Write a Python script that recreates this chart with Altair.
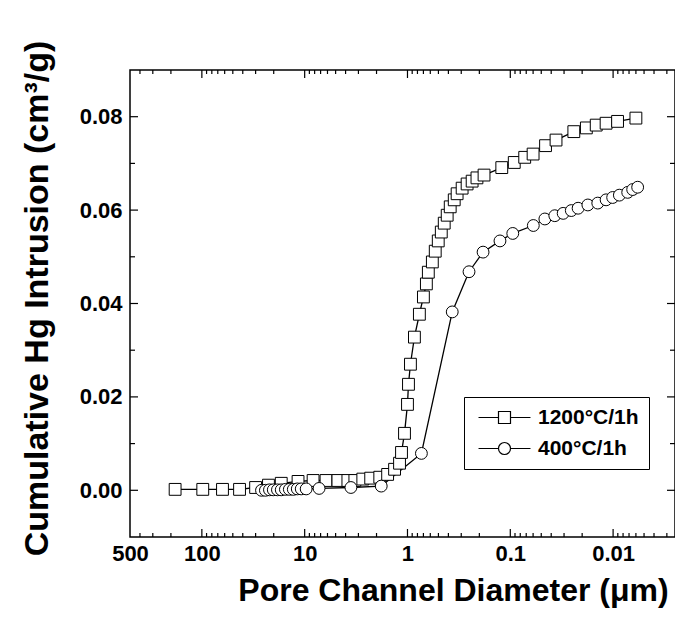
import altair as alt
import pandas as pd

S1 = "1200°C/1h"
S2 = "400°C/1h"

sq_d = [182, 98, 63, 43, 30, 22.5, 16.9, 11.6, 8.28, 6.20, 4.75, 3.80, 3.25, 2.72, 2.28,
        1.86, 1.56, 1.335, 1.195, 1.143, 1.069, 1.00, 0.978, 0.936, 0.856, 0.766, 0.700,
        0.655, 0.627, 0.573, 0.537, 0.502, 0.469, 0.439, 0.411, 0.384, 0.351, 0.329, 0.294,
        0.263, 0.235, 0.211, 0.180, 0.121, 0.0915, 0.0724, 0.0600, 0.0454, 0.0359, 0.0241,
        0.0182, 0.0146, 0.0117, 0.00905, 0.0060]
sq_v = [0.0002, 0.0002, 0.0002, 0.0002, 0.0006, 0.0011, 0.0015, 0.0019, 0.0021, 0.0021,
        0.0021, 0.0021, 0.0021, 0.0024, 0.0026, 0.0028, 0.0034, 0.0045, 0.0058, 0.0081,
        0.0122, 0.0184, 0.0227, 0.0270, 0.0328, 0.0377, 0.0414, 0.0442, 0.0467, 0.0489,
        0.0512, 0.0534, 0.0553, 0.0572, 0.0589, 0.0607, 0.0622, 0.0635, 0.0647, 0.0656,
        0.0662, 0.0669, 0.0675, 0.0691, 0.0702, 0.0713, 0.0720, 0.0738, 0.0750, 0.0768,
        0.0776, 0.0782, 0.0786, 0.0790, 0.0797]

ci_d = [26.3, 24.1, 22.0, 20.2, 18.4, 16.9, 15.4, 14.1, 12.9, 11.8, 10.8, 9.67,
        7.24, 3.55, 1.80, 0.732, 0.367, 0.252, 0.184, 0.126, 0.0946, 0.0597,
        0.0461, 0.0369, 0.0306, 0.0255, 0.0219, 0.0176, 0.0141, 0.0117, 0.0101, 0.00869,
        0.00721, 0.00645, 0.00577]
ci_v = [0.0000, 0.0000, 0.0001, 0.0001, 0.0001, 0.0001, 0.0002, 0.0002, 0.0002, 0.0003,
        0.0003, 0.0003, 0.0004, 0.0006, 0.0009, 0.0079, 0.0382, 0.0468, 0.0510, 0.0534,
        0.0550, 0.0567, 0.0581, 0.0588, 0.0593, 0.0599, 0.0604, 0.0611, 0.0615, 0.0622,
        0.0627, 0.0632, 0.0638, 0.0644, 0.0649]

x_labels = [500, 100, 10, 1, 0.1, 0.01]
x_major = [100, 10, 1, 0.1, 0.01]
x_minor = [400, 300, 200, 90, 80, 70, 60, 50, 40, 30, 20, 9, 8, 7, 6, 5, 4, 3, 2,
           0.9, 0.8, 0.7, 0.6, 0.5, 0.4, 0.3, 0.2, 0.09, 0.08, 0.07, 0.06, 0.05, 0.04,
           0.03, 0.02, 0.009, 0.008, 0.007, 0.006, 0.005, 0.004, 0.003]
y_major = [0.00, 0.02, 0.04, 0.06, 0.08]
y_minor = [0.01, 0.03, 0.05, 0.07]

W, H = 545, 467
FONT = "Liberation Sans"

rows = []
for i, (d, v) in enumerate(zip(sq_d, sq_v)):
    rows.append({"series": S1, "d": d, "v": v, "idx": i})
for i, (d, v) in enumerate(zip(ci_d, ci_v)):
    rows.append({"series": S2, "d": d, "v": v, "idx": i})
df = pd.DataFrame(rows)

xscale = alt.Scale(type="log", domain=[0.0025, 500], reverse=True, nice=False)
yscale = alt.Scale(domain=[-0.01, 0.09], nice=False, zero=False)

x_axis = alt.Axis(
    values=x_labels, format="~g", ticks=False, domain=False, grid=False,
    labelFont=FONT, labelFontSize=22, labelFontWeight="bold", labelColor="black",
    labelPadding=23, labelBaseline="alphabetic", labelFlush=False, labelOverlap=False,
    title="Pore Channel Diameter (μm)", titleFont=FONT, titleFontSize=32,
    titleFontWeight="bold", titleColor="black", titleX=323, titleY=63,
    titleAlign="center", titleBaseline="alphabetic",
)
y_axis = alt.Axis(
    values=y_major, format=".2f", ticks=False, domain=False, grid=False,
    labelFont=FONT, labelFontSize=22, labelFontWeight="bold", labelColor="black",
    labelPadding=8,
    title="Cumulative Hg Intrusion (cm³/g)", titleFont=FONT, titleFontSize=34,
    titleFontWeight="bold", titleColor="black", titleX=-83, titleY=228,
    titleAngle=270, titleAlign="center", titleBaseline="alphabetic",
)


def xticks(vals, y0, y1):
    return alt.Chart(pd.DataFrame({"t": vals})).mark_rule(color="black", strokeWidth=1.2).encode(
        x=alt.X("t:Q", scale=xscale), y=alt.value(y0), y2=alt.value(y1))


def yticks(vals, x0, x1):
    return alt.Chart(pd.DataFrame({"t": vals})).mark_rule(color="black", strokeWidth=1.2).encode(
        y=alt.Y("t:Q", scale=yscale), x=alt.value(x0), x2=alt.value(x1))


tick_layers = [
    xticks(x_major, H, H - 8), xticks(x_minor, H, H - 4),
    xticks(x_major, 0, 8), xticks(x_minor, 0, 4),
    yticks(y_major, 0, 8), yticks(y_minor, 0, 5),
    yticks(y_major, W, W - 8), yticks(y_minor, W, W - 5),
]

line = alt.Chart(df).mark_line(color="black", strokeWidth=1.3).encode(
    x=alt.X("d:Q", scale=xscale, axis=x_axis),
    y=alt.Y("v:Q", scale=yscale, axis=y_axis),
    detail="series:N", order="idx:Q",
)

squares = alt.Chart(df).transform_filter(alt.datum.series == S1).mark_square(
    fill="white", stroke="black", strokeWidth=1, size=140, opacity=1).encode(
    x=alt.X("d:Q", scale=xscale), y=alt.Y("v:Q", scale=yscale),
)
circles = alt.Chart(df).transform_filter(alt.datum.series == S2).mark_circle(
    fill="white", stroke="black", strokeWidth=1, size=140, opacity=1).encode(
    x=alt.X("d:Q", scale=xscale), y=alt.Y("v:Q", scale=yscale),
)

PATH_SQ = "M-4.33,0H-1M1,0H4.33M-1,-1H1V1H-1Z"
PATH_CI = "M-4.33,0H-1M1,0H4.33M1,0A1,1,0,1,1,-1,0A1,1,0,1,1,1,0Z"

legend_layer = alt.Chart(df).transform_filter("false").mark_point(
    filled=False, color="black", strokeWidth=1.2, size=144).encode(
    x=alt.X("d:Q", scale=xscale), y=alt.Y("v:Q", scale=yscale),
    shape=alt.Shape("series:N", scale=alt.Scale(domain=[S1, S2], range=[PATH_SQ, PATH_CI]),
                    legend=alt.Legend(
                        title=None, orient="none", legendX=334, legendY=327,
                        strokeColor="black", fillColor="white", padding=10,
                        symbolSize=144, symbolStrokeWidth=1.2,
                        symbolStrokeColor="black", symbolOpacity=1, symbolOffset=20,
                        labelFont=FONT, labelFontSize=21, labelFontWeight="bold",
                        labelColor="black", labelOffset=23, rowPadding=9, labelLimit=0,
                    )),
)

chart = alt.layer(line, *tick_layers, squares, circles, legend_layer).properties(
    width=W, height=H,
    background="white",
    autosize=alt.AutoSizeParams(type="none"),
    padding={"left": 122, "top": 62, "right": 0, "bottom": 74},
).configure_view(stroke="black", strokeWidth=1.5)

chart.save("out.html", embed_options={"renderer": "svg", "actions": False})
